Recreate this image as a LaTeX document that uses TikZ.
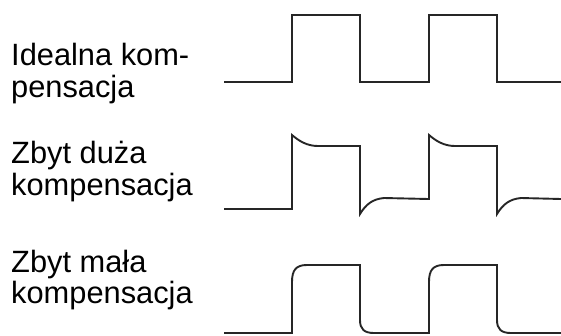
\documentclass[tikz,border=0pt]{standalone}
\usepackage{fontspec}
\setmainfont{Liberation Sans}
\begin{document}
\begin{tikzpicture}[x=1pt,y=-1pt,
  wave/.style={draw=black!85, line width=1.9pt, line join=miter},
  caption/.style={anchor=base west, inner sep=0pt, font=\fontsize{30.8}{33}\selectfont}]
\useasboundingbox (0,0) rectangle (561,335);

% labels
\node[caption] (ideal1) at (11,65) {Idealna kom-};
\node[caption] (ideal2) at (11,97) {pensacja};
\node[caption] (over1)  at (11,163) {Zbyt duża};
\node[caption] (over2)  at (11,195) {kompensacja};
\node[caption] (under1) at (11,272) {Zbyt mała};
\node[caption] (under2) at (11,303) {kompensacja};

% ideal square wave
\draw[wave] (224,82) -- (292,82) -- (292,15) -- (360,15) -- (360,82)
  -- (429,82) -- (429,15) -- (497,15) -- (497,82) -- (561,82);

% overcompensated: overshoot with decay
\draw[wave] (224,209) -- (292,209) -- (292,135)
  .. controls (299,141) and (307,146) .. (318,146) -- (360,146) -- (360,214)
  .. controls (366,204) and (373,199) .. (384,198) -- (429,199) -- (429,135)
  .. controls (436,141) and (444,146) .. (455,146) -- (497,146) -- (497,214)
  .. controls (503,204) and (510,199) .. (521,198) -- (561,199);

% undercompensated: rounded edges
\draw[wave] (224,333) -- (292,333) -- (292,282)
  .. controls (292,270) and (296,265) .. (307,265) -- (360,265) -- (360,320)
  .. controls (360,329) and (364,333) .. (374,333) -- (429,333) -- (429,282)
  .. controls (429,270) and (433,265) .. (444,265) -- (497,265) -- (497,320)
  .. controls (497,329) and (501,333) .. (511,333) -- (561,333);
\end{tikzpicture}
\end{document}
